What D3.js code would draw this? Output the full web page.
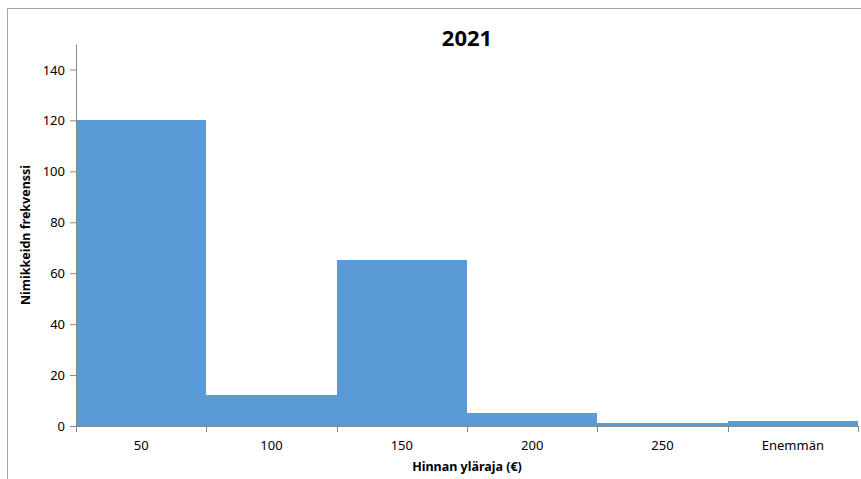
<!DOCTYPE html>
<html><head><meta charset="utf-8">
<script src="https://cdn.jsdelivr.net/npm/d3@7"></script>
<style>
html,body{margin:0;padding:0;background:#fff;}
text{font-family:"Noto Sans","Open Sans",sans-serif;fill:#000;}
</style></head>
<body>
<svg id="chart" width="861" height="479"></svg>
<script>
const categories = ["50","100","150","200","250","Enemmän"];
const frequencies = [120, 12, 65, 5, 1, 2];
const yTicks = [0,20,40,60,80,100,120,140];
const title = "2021";
const xTitle = "Hinnan yläraja (€)";
const yTitle = "Nimikkeidn frekvenssi";

const svg = d3.select("#chart");
const margin = {left:76, right:3, top:44, bottom:53};
const W = 861, H = 479;

// outer frame
svg.append("path").attr("d","M7.5,479 L7.5,8.5 L861,8.5").attr("fill","none").attr("stroke","#a6a6a6").attr("stroke-width",1);

const x = d3.scaleBand().domain(categories).range([margin.left, W - margin.right]).padding(0);
const y = d3.scaleLinear().domain([0,150]).range([H - margin.bottom, margin.top]);

svg.append("g").attr("shape-rendering","crispEdges").selectAll("rect").data(frequencies).join("rect")
  .attr("x",(d,i)=>x(categories[i]))
  .attr("width",x.bandwidth())
  .attr("y",d=>y(d))
  .attr("height",d=>y(0)-y(d))
  .attr("fill","#5b9bd5");

// y axis
const ya = svg.append("g").attr("transform",`translate(${margin.left},0)`)
  .call(d3.axisLeft(y).tickValues(yTicks).tickSize(6).tickPadding(5).tickSizeOuter(0));
ya.select(".domain").attr("stroke","#868686");
ya.selectAll(".tick line").attr("stroke","#868686");
ya.selectAll(".tick text").attr("font-size","13px").attr("font-family","'Noto Sans',sans-serif").attr("fill","#000").attr("dy","0.35em");

// x axis
const xa = svg.append("g").attr("transform",`translate(0,${y(0)})`)
  .call(d3.axisBottom(x).tickSize(0).tickPadding(15));
xa.select(".domain").attr("stroke","#868686");
xa.selectAll(".tick text").attr("font-size","13px").attr("font-family","'Noto Sans',sans-serif").attr("fill","#000");
// boundary ticks
const bounds = categories.map(c=>x(c)).concat([x(categories[categories.length-1])+x.bandwidth()]);
xa.append("g").selectAll("line").data(bounds).join("line")
  .attr("x1",d=>Math.round(d)+0.5).attr("x2",d=>Math.round(d)+0.5)
  .attr("y1",0).attr("y2",6).attr("stroke","#868686");

// titles
svg.append("text").attr("x",(margin.left + W - margin.right)/2).attr("y",46)
  .attr("text-anchor","middle").attr("font-size","22px").attr("font-weight","bold").text(title);
svg.append("text").attr("x",(margin.left + W - margin.right)/2).attr("y",471)
  .attr("text-anchor","middle").attr("font-size","12.5px").attr("font-weight","bold").text(xTitle);
svg.append("text").attr("transform",`translate(30,${(y(0)+y(150))/2}) rotate(-90)`)
  .attr("text-anchor","middle").attr("font-size","12.5px").attr("font-weight","bold").text(yTitle);
</script>
</body></html>
